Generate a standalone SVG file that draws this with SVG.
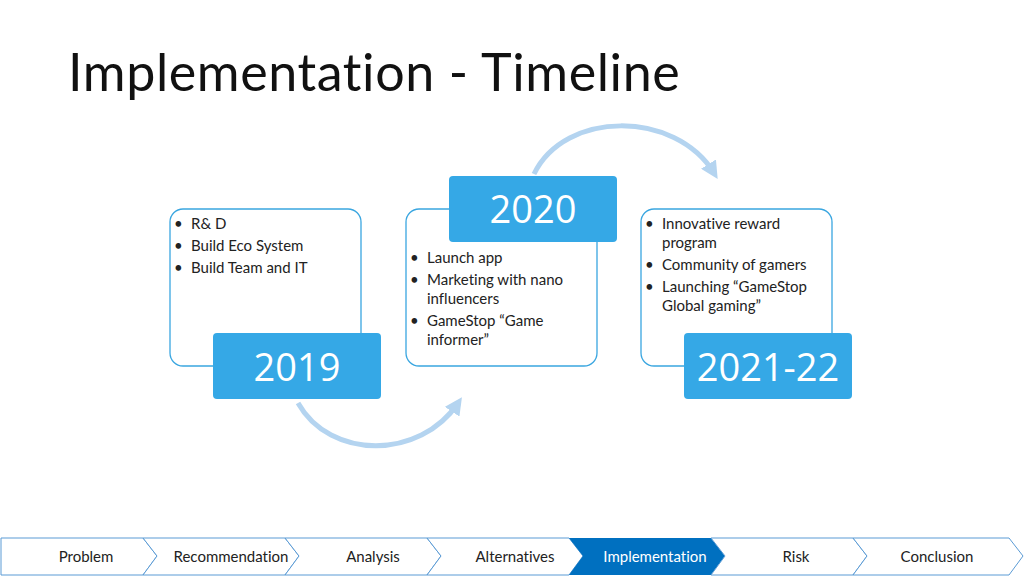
<svg xmlns="http://www.w3.org/2000/svg" width="1024" height="576" viewBox="0 0 1024 576">
<style>
text{font-family:Lato,"Noto Sans",sans-serif;font-variant-ligatures:none}
.box{fill:#fff;stroke:#3aa6e0;stroke-width:1.3}
.yr{fill:#35a8e6}
.yt{fill:#fff;font-size:38px;text-anchor:middle;font-family:"Open Sans",Lato,sans-serif;font-weight:500}
.b{font-size:15px;fill:#222}
.arc{fill:none;stroke:#b4d4f0;stroke-width:5}
.nav{fill:#fff;stroke:#5b9bd5;stroke-width:1}
.nt{font-size:15px;fill:#222;text-anchor:middle}
</style>
<defs><marker id="ah" viewBox="0 0 10 10" refX="6" refY="5" markerWidth="3.5" markerHeight="3.5" orient="auto"><path d="M0,0 L10,5 L0,10 z" fill="#b4d4f0"/></marker></defs>
<text x="68" y="91" font-size="52" fill="#111" font-weight="400" letter-spacing="0.6">Implementation - Timeline</text>
<g id="connectors">
<path class="arc" d="M298,403 C330,460 420,460 458,403" marker-end="url(#ah)"/>
<path class="arc" d="M534,174 C565,110 675,110 714,173" marker-end="url(#ah)"/>
</g>
<g id="n2019">
<rect class="box" x="170" y="209" width="191" height="157" rx="13"/>
<text class="b" x="174" y="229">•</text><text class="b" x="191" y="229">R&amp; D</text>
<text class="b" x="174" y="251">•</text><text class="b" x="191" y="251">Build Eco System</text>
<text class="b" x="174" y="273">•</text><text class="b" x="191" y="273">Build Team and IT</text>
<rect class="yr" x="213" y="333" width="168" height="66" rx="4"/>
<text class="yt" x="297" y="381">2019</text>
</g>
<g id="n2020">
<rect class="box" x="406" y="209" width="191" height="157" rx="13"/>
<rect class="yr" x="449" y="176" width="168" height="66" rx="4"/>
<text class="yt" x="533" y="223">2020</text>
<text class="b" x="410" y="263">•</text><text class="b" x="427" y="263">Launch app</text>
<text class="b" x="410" y="285">•</text><text class="b" x="427" y="285">Marketing with nano</text>
<text class="b" x="427" y="304">influencers</text>
<text class="b" x="410" y="326">•</text><text class="b" x="427" y="326">GameStop “Game</text>
<text class="b" x="427" y="345">informer”</text>
</g>
<g id="n2021">
<rect class="box" x="641" y="209" width="191" height="157" rx="13"/>
<text class="b" x="645" y="229">•</text><text class="b" x="662" y="229">Innovative reward</text>
<text class="b" x="662" y="248">program</text>
<text class="b" x="645" y="270">•</text><text class="b" x="662" y="270">Community of gamers</text>
<text class="b" x="645" y="292">•</text><text class="b" x="662" y="292">Launching “GameStop</text>
<text class="b" x="662" y="311">Global gaming”</text>
<rect class="yr" x="684" y="333" width="168" height="66" rx="4"/>
<text class="yt" x="768" y="381">2021-22</text>
</g>
<g id="nav">
<path class="nav" d="M1,538 H143 L157,556 L143,575 H1 Z"/>
<path class="nav" d="M143,538 H285 L299,556 L285,575 H143 L157,556 Z"/>
<path class="nav" d="M285,538 H427 L441,556 L427,575 H285 L299,556 Z"/>
<path class="nav" d="M427,538 H569 L583,556 L569,575 H427 L441,556 Z"/>
<path d="M569,538 H711 L725,556 L711,575 H569 L583,556 Z" fill="#0070c0"/>
<path class="nav" d="M711,538 H853 L867,556 L853,575 H711 L725,556 Z"/>
<path class="nav" d="M853,538 H1009 L1023,556 L1009,575 H853 L867,556 Z"/>
<text class="nt" x="86" y="562">Problem</text>
<text class="nt" x="231" y="562">Recommendation</text>
<text class="nt" x="373" y="562">Analysis</text>
<text class="nt" x="515" y="562">Alternatives</text>
<text class="nt" x="655" y="562" style="fill:#fff">Implementation</text>
<text class="nt" x="796" y="562">Risk</text>
<text class="nt" x="937" y="562">Conclusion</text>
</g>
</svg>
